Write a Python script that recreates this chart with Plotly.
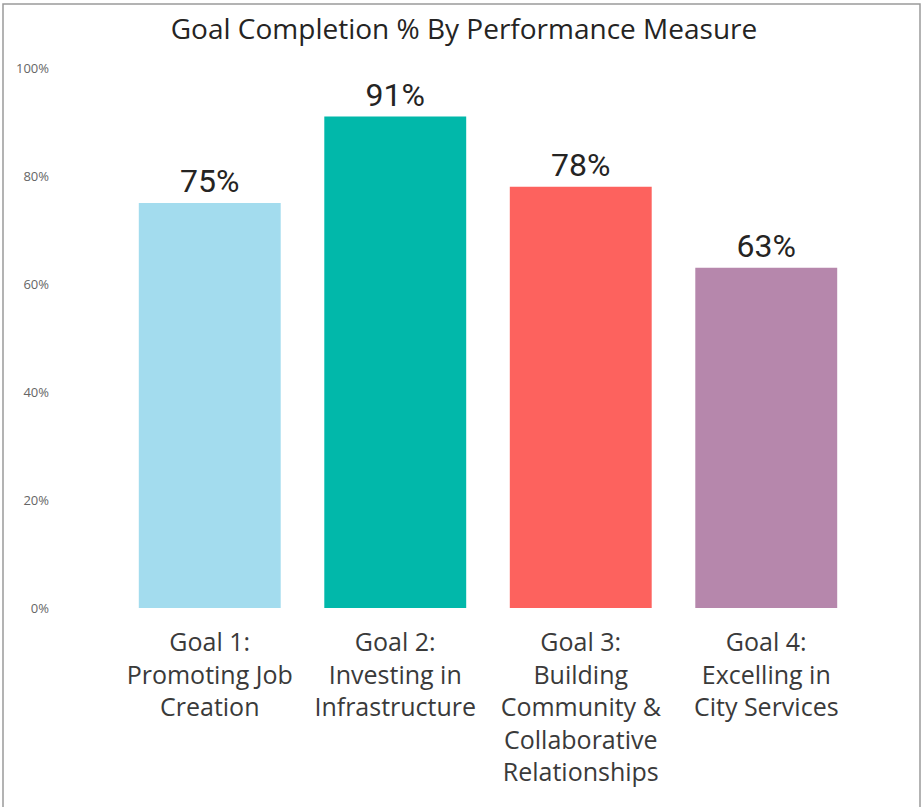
import plotly.graph_objects as go

categories = [
    "Goal 1:<br>Promoting Job<br>Creation",
    "Goal 2:<br>Investing in<br>Infrastructure",
    "Goal 3:<br>Building<br>Community &<br>Collaborative<br>Relationships",
    "Goal 4:<br>Excelling in<br>City Services",
]
completion = [0.75, 0.91, 0.78, 0.63]
bar_colors = ["#A3DCEE", "#01B8AA", "#FD625E", "#B687AC"]
y_ticks = [0, 0.2, 0.4, 0.6, 0.8, 1.0]
y_tick_labels = ["0%", "20%", "40%", "60%", "80%", "100%"]

fig = go.Figure(
    go.Bar(
        x=categories,
        y=completion,
        marker=dict(color=bar_colors, line=dict(width=0)),
        texttemplate="%{y:.0%}",
        textposition="outside",
        cliponaxis=False,
        textfont=dict(family="Roboto", size=32, color="#252423"),
    )
)

W, H = 924, 807
L, R, T, B = 117, 65, 68, 199
pw, ph = W - L - R, H - T - B

fig.update_layout(
    width=W,
    height=H,
    margin=dict(l=L, r=R, t=T, b=B),
    paper_bgcolor="white",
    plot_bgcolor="white",
    bargap=0.235,
    showlegend=False,
    title=dict(
        text="Goal Completion % By Performance Measure",
        x=464 / W,
        xref="container",
        xanchor="center",
        y=1 - 29 / H,
        yanchor="middle",
        font=dict(family="Open Sans", size=28, color="#252423"),
    ),
    xaxis=dict(
        showgrid=False,
        showline=False,
        ticks="",
        ticklabelstandoff=17,
        tickfont=dict(family="Open Sans", size=25, color="#3a3a3a"),
        range=[-0.5, 3.5],
    ),
    yaxis=dict(
        range=[0, 1],
        tickvals=y_ticks,
        ticktext=y_tick_labels,
        showgrid=False,
        zeroline=False,
        showline=False,
        ticks="",
        ticklabelstandoff=67,
        tickfont=dict(family="Open Sans", size=13, color="#666666"),
    ),
    shapes=[
        dict(
            type="rect",
            xref="paper",
            yref="paper",
            x0=(3 - L) / pw,
            x1=(920 - L) / pw,
            y0=(H - 820 - B) / ph,
            y1=(H - 4 - B) / ph,
            line=dict(color="#9a9a9a", width=1.5),
            fillcolor="rgba(0,0,0,0)",
            layer="below",
        )
    ],
)

fig.write_html(
    "out.html",
    config={"displayModeBar": False},
    post_script="document.body.style.margin='0';document.body.style.overflow='hidden';",
)
